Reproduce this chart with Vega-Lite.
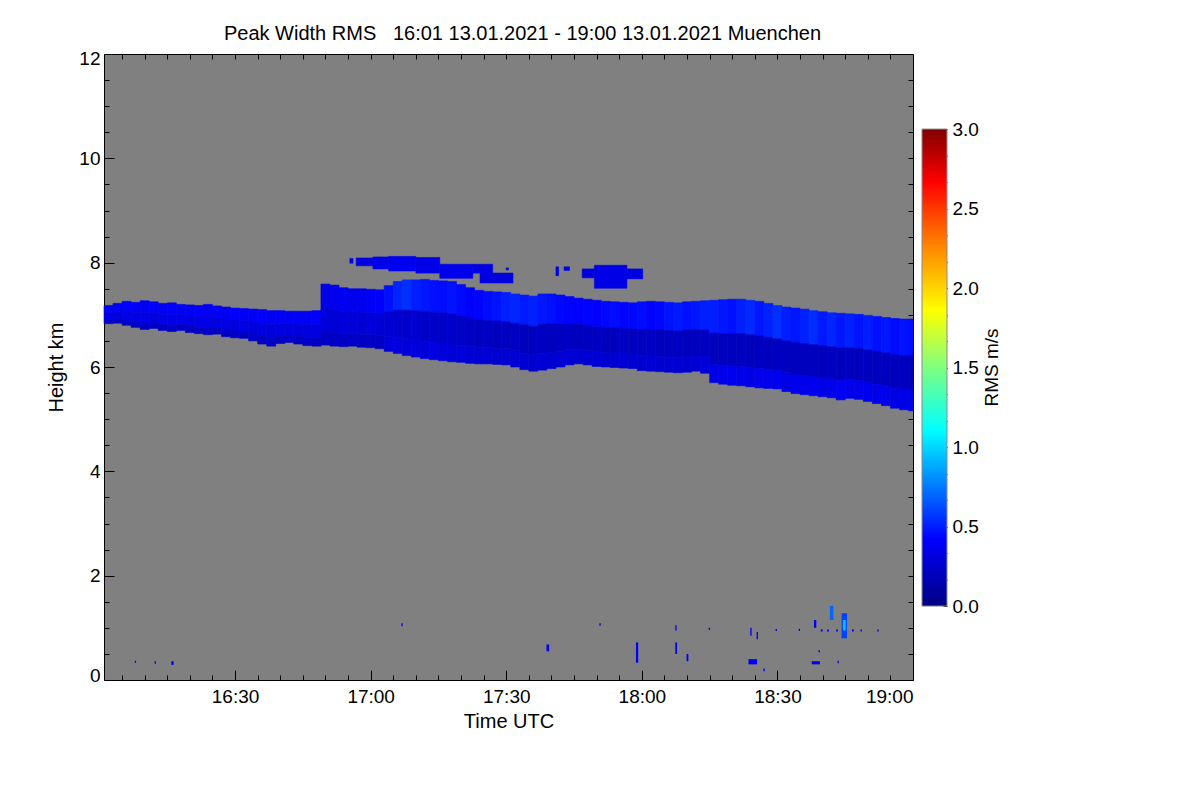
{
  "$schema": "https://vega.github.io/schema/vega-lite/v6.json",
  "background": "white",
  "padding": {"left": 46, "top": 23, "right": 5, "bottom": 5},
  "config": {
    "font": "Liberation Sans",
    "axis": {"labelFontSize": 19, "titleFontSize": 20, "titleFontWeight": "normal", "labelColor": "#000", "titleColor": "#000", "tickColor": "#000", "grid": false, "domain": false},
    "title": {"fontSize": 20, "fontWeight": "normal", "color": "#000"}
  },
  "datasets": {
    "band": [
      {"t0":1,"t1":3,"h0":7.04,"h1":7.18,"v":0.40},{"t0":1,"t1":3,"h0":6.91,"h1":7.04,"v":0.34},{"t0":1,"t1":3,"h0":6.83,"h1":6.91,"v":0.24},
      {"t0":3,"t1":5,"h0":7.07,"h1":7.22,"v":0.38},{"t0":3,"t1":5,"h0":6.92,"h1":7.07,"v":0.33},{"t0":3,"t1":5,"h0":6.84,"h1":6.92,"v":0.22},
      {"t0":5,"t1":7,"h0":7.08,"h1":7.26,"v":0.42},{"t0":5,"t1":7,"h0":6.90,"h1":7.08,"v":0.35},{"t0":5,"t1":7,"h0":6.80,"h1":6.90,"v":0.24},
      {"t0":7,"t1":9,"h0":7.05,"h1":7.24,"v":0.40},{"t0":7,"t1":9,"h0":6.87,"h1":7.05,"v":0.33},{"t0":7,"t1":9,"h0":6.76,"h1":6.87,"v":0.23},
      {"t0":9,"t1":11,"h0":7.05,"h1":7.27,"v":0.38},{"t0":9,"t1":11,"h0":6.84,"h1":7.05,"v":0.34},{"t0":9,"t1":11,"h0":6.72,"h1":6.84,"v":0.22},
      {"t0":11,"t1":13,"h0":7.05,"h1":7.25,"v":0.41},{"t0":11,"t1":13,"h0":6.85,"h1":7.05,"v":0.32},{"t0":11,"t1":13,"h0":6.74,"h1":6.85,"v":0.24},
      {"t0":13,"t1":15,"h0":7.01,"h1":7.22,"v":0.39},{"t0":13,"t1":15,"h0":6.81,"h1":7.01,"v":0.34},{"t0":13,"t1":15,"h0":6.70,"h1":6.81,"v":0.22},
      {"t0":15,"t1":17,"h0":7.01,"h1":7.23,"v":0.42},{"t0":15,"t1":17,"h0":6.80,"h1":7.01,"v":0.33},{"t0":15,"t1":17,"h0":6.68,"h1":6.80,"v":0.23},
      {"t0":17,"t1":19,"h0":7.00,"h1":7.20,"v":0.38},{"t0":17,"t1":19,"h0":6.81,"h1":7.00,"v":0.35},{"t0":17,"t1":19,"h0":6.70,"h1":6.81,"v":0.24},
      {"t0":19,"t1":21,"h0":6.98,"h1":7.19,"v":0.40},{"t0":19,"t1":21,"h0":6.78,"h1":6.98,"v":0.32},{"t0":19,"t1":21,"h0":6.66,"h1":6.78,"v":0.22},
      {"t0":21,"t1":23,"h0":6.96,"h1":7.18,"v":0.41},{"t0":21,"t1":23,"h0":6.76,"h1":6.96,"v":0.33},{"t0":21,"t1":23,"h0":6.64,"h1":6.76,"v":0.23},
      {"t0":23,"t1":25,"h0":6.97,"h1":7.20,"v":0.39},{"t0":23,"t1":25,"h0":6.75,"h1":6.97,"v":0.34},{"t0":23,"t1":25,"h0":6.62,"h1":6.75,"v":0.22},
      {"t0":25,"t1":27,"h0":6.95,"h1":7.17,"v":0.40},{"t0":25,"t1":27,"h0":6.75,"h1":6.95,"v":0.32},{"t0":25,"t1":27,"h0":6.63,"h1":6.75,"v":0.24},
      {"t0":27,"t1":29,"h0":6.92,"h1":7.15,"v":0.38},{"t0":27,"t1":29,"h0":6.71,"h1":6.92,"v":0.33},{"t0":27,"t1":29,"h0":6.58,"h1":6.71,"v":0.22},
      {"t0":29,"t1":31,"h0":6.90,"h1":7.13,"v":0.42},{"t0":29,"t1":31,"h0":6.69,"h1":6.90,"v":0.31},{"t0":29,"t1":31,"h0":6.56,"h1":6.69,"v":0.23},
      {"t0":31,"t1":33,"h0":6.89,"h1":7.12,"v":0.40},{"t0":31,"t1":33,"h0":6.68,"h1":6.89,"v":0.33},{"t0":31,"t1":33,"h0":6.55,"h1":6.68,"v":0.22},
      {"t0":33,"t1":35,"h0":6.87,"h1":7.11,"v":0.39},{"t0":33,"t1":35,"h0":6.63,"h1":6.87,"v":0.30},{"t0":33,"t1":35,"h0":6.50,"h1":6.63,"v":0.24},
      {"t0":35,"t1":37,"h0":6.84,"h1":7.10,"v":0.41},{"t0":35,"t1":37,"h0":6.59,"h1":6.84,"v":0.32},{"t0":35,"t1":37,"h0":6.44,"h1":6.59,"v":0.22},
      {"t0":37,"t1":39,"h0":6.81,"h1":7.08,"v":0.38},{"t0":37,"t1":39,"h0":6.55,"h1":6.81,"v":0.30},{"t0":37,"t1":39,"h0":6.40,"h1":6.55,"v":0.23},
      {"t0":39,"t1":41,"h0":6.83,"h1":7.08,"v":0.40},{"t0":39,"t1":41,"h0":6.59,"h1":6.83,"v":0.31},{"t0":39,"t1":41,"h0":6.45,"h1":6.59,"v":0.22},
      {"t0":41,"t1":43,"h0":6.83,"h1":7.07,"v":0.39},{"t0":41,"t1":43,"h0":6.60,"h1":6.83,"v":0.32},{"t0":41,"t1":43,"h0":6.47,"h1":6.60,"v":0.24},
      {"t0":43,"t1":45,"h0":6.82,"h1":7.07,"v":0.41},{"t0":43,"t1":45,"h0":6.58,"h1":6.82,"v":0.30},{"t0":43,"t1":45,"h0":6.44,"h1":6.58,"v":0.22},
      {"t0":45,"t1":47,"h0":6.81,"h1":7.07,"v":0.40},{"t0":45,"t1":47,"h0":6.56,"h1":6.81,"v":0.31},{"t0":45,"t1":47,"h0":6.41,"h1":6.56,"v":0.23},
      {"t0":47,"t1":49,"h0":6.81,"h1":7.08,"v":0.42},{"t0":47,"t1":49,"h0":6.55,"h1":6.81,"v":0.32},{"t0":47,"t1":49,"h0":6.40,"h1":6.55,"v":0.22},
      {"t0":49,"t1":51,"h0":7.12,"h1":7.59,"v":0.34},{"t0":49,"t1":51,"h0":6.68,"h1":7.12,"v":0.30},{"t0":49,"t1":51,"h0":6.42,"h1":6.68,"v":0.22},
      {"t0":51,"t1":53,"h0":7.10,"h1":7.57,"v":0.36},{"t0":51,"t1":53,"h0":6.66,"h1":7.10,"v":0.28},{"t0":51,"t1":53,"h0":6.40,"h1":6.66,"v":0.23},
      {"t0":53,"t1":55,"h0":7.07,"h1":7.52,"v":0.38},{"t0":53,"t1":55,"h0":6.64,"h1":7.07,"v":0.30},{"t0":53,"t1":55,"h0":6.39,"h1":6.64,"v":0.22},
      {"t0":55,"t1":57,"h0":7.06,"h1":7.50,"v":0.35},{"t0":55,"t1":57,"h0":6.64,"h1":7.06,"v":0.29},{"t0":55,"t1":57,"h0":6.40,"h1":6.64,"v":0.24},
      {"t0":57,"t1":59,"h0":7.05,"h1":7.50,"v":0.37},{"t0":57,"t1":59,"h0":6.63,"h1":7.05,"v":0.28},{"t0":57,"t1":59,"h0":6.38,"h1":6.63,"v":0.22},
      {"t0":59,"t1":61,"h0":7.04,"h1":7.49,"v":0.40},{"t0":59,"t1":61,"h0":6.62,"h1":7.04,"v":0.30},{"t0":59,"t1":61,"h0":6.37,"h1":6.62,"v":0.23},
      {"t0":61,"t1":63,"h0":7.03,"h1":7.48,"v":0.42},{"t0":61,"t1":63,"h0":6.60,"h1":7.03,"v":0.28},{"t0":61,"t1":63,"h0":6.35,"h1":6.60,"v":0.22},
      {"t0":63,"t1":65,"h0":7.06,"h1":7.56,"v":0.46},{"t0":63,"t1":65,"h0":6.58,"h1":7.06,"v":0.27},{"t0":63,"t1":65,"h0":6.30,"h1":6.58,"v":0.30},
      {"t0":65,"t1":67,"h0":7.09,"h1":7.64,"v":0.52},{"t0":65,"t1":67,"h0":6.56,"h1":7.09,"v":0.26},{"t0":65,"t1":67,"h0":6.26,"h1":6.56,"v":0.32},
      {"t0":67,"t1":69,"h0":7.09,"h1":7.67,"v":0.55},{"t0":67,"t1":69,"h0":6.54,"h1":7.09,"v":0.25},{"t0":67,"t1":69,"h0":6.22,"h1":6.54,"v":0.30},
      {"t0":69,"t1":71,"h0":7.08,"h1":7.67,"v":0.50},{"t0":69,"t1":71,"h0":6.52,"h1":7.08,"v":0.26},{"t0":69,"t1":71,"h0":6.19,"h1":6.52,"v":0.31},
      {"t0":71,"t1":73,"h0":7.07,"h1":7.68,"v":0.48},{"t0":71,"t1":73,"h0":6.49,"h1":7.07,"v":0.24},{"t0":71,"t1":73,"h0":6.16,"h1":6.49,"v":0.30},
      {"t0":73,"t1":75,"h0":7.05,"h1":7.66,"v":0.46},{"t0":73,"t1":75,"h0":6.47,"h1":7.05,"v":0.25},{"t0":73,"t1":75,"h0":6.14,"h1":6.47,"v":0.32},
      {"t0":75,"t1":77,"h0":7.04,"h1":7.65,"v":0.45},{"t0":75,"t1":77,"h0":6.46,"h1":7.04,"v":0.24},{"t0":75,"t1":77,"h0":6.12,"h1":6.46,"v":0.30},
      {"t0":77,"t1":79,"h0":7.02,"h1":7.64,"v":0.47},{"t0":77,"t1":79,"h0":6.44,"h1":7.02,"v":0.25},{"t0":77,"t1":79,"h0":6.10,"h1":6.44,"v":0.29},
      {"t0":79,"t1":81,"h0":6.98,"h1":7.58,"v":0.44},{"t0":79,"t1":81,"h0":6.42,"h1":6.98,"v":0.23},{"t0":79,"t1":81,"h0":6.09,"h1":6.42,"v":0.30},
      {"t0":81,"t1":83,"h0":6.94,"h1":7.52,"v":0.42},{"t0":81,"t1":83,"h0":6.39,"h1":6.94,"v":0.22},{"t0":81,"t1":83,"h0":6.07,"h1":6.39,"v":0.28},
      {"t0":83,"t1":85,"h0":6.91,"h1":7.47,"v":0.43},{"t0":83,"t1":85,"h0":6.37,"h1":6.91,"v":0.21},{"t0":83,"t1":85,"h0":6.06,"h1":6.37,"v":0.27},
      {"t0":85,"t1":87,"h0":6.89,"h1":7.45,"v":0.45},{"t0":85,"t1":87,"h0":6.37,"h1":6.89,"v":0.22},{"t0":85,"t1":87,"h0":6.06,"h1":6.37,"v":0.28},
      {"t0":87,"t1":89,"h0":6.88,"h1":7.44,"v":0.47},{"t0":87,"t1":89,"h0":6.36,"h1":6.88,"v":0.20},{"t0":87,"t1":89,"h0":6.05,"h1":6.36,"v":0.26},
      {"t0":89,"t1":91,"h0":6.87,"h1":7.43,"v":0.50},{"t0":89,"t1":91,"h0":6.35,"h1":6.87,"v":0.21},{"t0":89,"t1":91,"h0":6.04,"h1":6.35,"v":0.27},
      {"t0":91,"t1":93,"h0":6.84,"h1":7.40,"v":0.52},{"t0":91,"t1":93,"h0":6.31,"h1":6.84,"v":0.22},{"t0":91,"t1":93,"h0":6.00,"h1":6.31,"v":0.28},
      {"t0":93,"t1":95,"h0":6.81,"h1":7.38,"v":0.49},{"t0":93,"t1":95,"h0":6.26,"h1":6.81,"v":0.20},{"t0":93,"t1":95,"h0":5.95,"h1":6.26,"v":0.26},
      {"t0":95,"t1":97,"h0":6.78,"h1":7.36,"v":0.51},{"t0":95,"t1":97,"h0":6.24,"h1":6.78,"v":0.21},{"t0":95,"t1":97,"h0":5.92,"h1":6.24,"v":0.27},
      {"t0":97,"t1":99,"h0":6.82,"h1":7.40,"v":0.48},{"t0":97,"t1":99,"h0":6.26,"h1":6.82,"v":0.22},{"t0":97,"t1":99,"h0":5.94,"h1":6.26,"v":0.28},
      {"t0":99,"t1":101,"h0":6.83,"h1":7.40,"v":0.46},{"t0":99,"t1":101,"h0":6.28,"h1":6.83,"v":0.20},{"t0":99,"t1":101,"h0":5.97,"h1":6.28,"v":0.26},
      {"t0":101,"t1":103,"h0":6.83,"h1":7.38,"v":0.44},{"t0":101,"t1":103,"h0":6.30,"h1":6.83,"v":0.21},{"t0":101,"t1":103,"h0":6.00,"h1":6.30,"v":0.27},
      {"t0":103,"t1":105,"h0":6.83,"h1":7.35,"v":0.43},{"t0":103,"t1":105,"h0":6.33,"h1":6.83,"v":0.22},{"t0":103,"t1":105,"h0":6.04,"h1":6.33,"v":0.28},
      {"t0":105,"t1":107,"h0":6.82,"h1":7.32,"v":0.42},{"t0":105,"t1":107,"h0":6.34,"h1":6.82,"v":0.20},{"t0":105,"t1":107,"h0":6.06,"h1":6.34,"v":0.26},
      {"t0":107,"t1":109,"h0":6.80,"h1":7.30,"v":0.43},{"t0":107,"t1":109,"h0":6.32,"h1":6.80,"v":0.21},{"t0":107,"t1":109,"h0":6.04,"h1":6.32,"v":0.27},
      {"t0":109,"t1":111,"h0":6.77,"h1":7.28,"v":0.42},{"t0":109,"t1":111,"h0":6.29,"h1":6.77,"v":0.22},{"t0":109,"t1":111,"h0":6.01,"h1":6.29,"v":0.28},
      {"t0":111,"t1":113,"h0":6.76,"h1":7.26,"v":0.44},{"t0":111,"t1":113,"h0":6.28,"h1":6.76,"v":0.20},{"t0":111,"t1":113,"h0":6.00,"h1":6.28,"v":0.26},
      {"t0":113,"t1":115,"h0":6.75,"h1":7.25,"v":0.45},{"t0":113,"t1":115,"h0":6.27,"h1":6.75,"v":0.21},{"t0":113,"t1":115,"h0":5.99,"h1":6.27,"v":0.27},
      {"t0":115,"t1":117,"h0":6.74,"h1":7.24,"v":0.43},{"t0":115,"t1":117,"h0":6.26,"h1":6.74,"v":0.22},{"t0":115,"t1":117,"h0":5.98,"h1":6.26,"v":0.28},
      {"t0":117,"t1":119,"h0":6.73,"h1":7.23,"v":0.44},{"t0":117,"t1":119,"h0":6.25,"h1":6.73,"v":0.20},{"t0":117,"t1":119,"h0":5.97,"h1":6.25,"v":0.26},
      {"t0":119,"t1":121,"h0":6.72,"h1":7.25,"v":0.45},{"t0":119,"t1":121,"h0":6.22,"h1":6.72,"v":0.21},{"t0":119,"t1":121,"h0":5.93,"h1":6.22,"v":0.27},
      {"t0":121,"t1":123,"h0":6.72,"h1":7.26,"v":0.43},{"t0":121,"t1":123,"h0":6.21,"h1":6.72,"v":0.22},{"t0":121,"t1":123,"h0":5.92,"h1":6.21,"v":0.28},
      {"t0":123,"t1":125,"h0":6.71,"h1":7.25,"v":0.44},{"t0":123,"t1":125,"h0":6.20,"h1":6.71,"v":0.20},{"t0":123,"t1":125,"h0":5.91,"h1":6.20,"v":0.26},
      {"t0":125,"t1":127,"h0":6.70,"h1":7.24,"v":0.47},{"t0":125,"t1":127,"h0":6.19,"h1":6.70,"v":0.21},{"t0":125,"t1":127,"h0":5.90,"h1":6.19,"v":0.27},
      {"t0":127,"t1":129,"h0":6.69,"h1":7.23,"v":0.49},{"t0":127,"t1":129,"h0":6.18,"h1":6.69,"v":0.22},{"t0":127,"t1":129,"h0":5.89,"h1":6.18,"v":0.28},
      {"t0":129,"t1":131,"h0":6.71,"h1":7.25,"v":0.46},{"t0":129,"t1":131,"h0":6.20,"h1":6.71,"v":0.20},{"t0":129,"t1":131,"h0":5.90,"h1":6.20,"v":0.26},
      {"t0":131,"t1":133,"h0":6.72,"h1":7.26,"v":0.48},{"t0":131,"t1":133,"h0":6.21,"h1":6.72,"v":0.21},{"t0":131,"t1":133,"h0":5.92,"h1":6.21,"v":0.27},
      {"t0":133,"t1":135,"h0":6.71,"h1":7.27,"v":0.50},{"t0":133,"t1":135,"h0":6.19,"h1":6.71,"v":0.22},{"t0":133,"t1":135,"h0":5.88,"h1":6.19,"v":0.30},
      {"t0":135,"t1":137,"h0":6.65,"h1":7.28,"v":0.50},{"t0":135,"t1":137,"h0":6.05,"h1":6.65,"v":0.20},{"t0":135,"t1":137,"h0":5.70,"h1":6.05,"v":0.34},
      {"t0":137,"t1":139,"h0":6.64,"h1":7.29,"v":0.48},{"t0":137,"t1":139,"h0":6.03,"h1":6.64,"v":0.21},{"t0":137,"t1":139,"h0":5.67,"h1":6.03,"v":0.36},
      {"t0":139,"t1":141,"h0":6.64,"h1":7.30,"v":0.46},{"t0":139,"t1":141,"h0":6.01,"h1":6.64,"v":0.20},{"t0":139,"t1":141,"h0":5.65,"h1":6.01,"v":0.37},
      {"t0":141,"t1":143,"h0":6.64,"h1":7.30,"v":0.50},{"t0":141,"t1":143,"h0":6.01,"h1":6.64,"v":0.21},{"t0":141,"t1":143,"h0":5.64,"h1":6.01,"v":0.35},
      {"t0":143,"t1":145,"h0":6.62,"h1":7.28,"v":0.53},{"t0":143,"t1":145,"h0":5.99,"h1":6.62,"v":0.20},{"t0":143,"t1":145,"h0":5.62,"h1":5.99,"v":0.34},
      {"t0":145,"t1":147,"h0":6.60,"h1":7.26,"v":0.48},{"t0":145,"t1":147,"h0":5.97,"h1":6.60,"v":0.21},{"t0":145,"t1":147,"h0":5.60,"h1":5.97,"v":0.36},
      {"t0":147,"t1":149,"h0":6.57,"h1":7.22,"v":0.51},{"t0":147,"t1":149,"h0":5.95,"h1":6.57,"v":0.20},{"t0":147,"t1":149,"h0":5.59,"h1":5.95,"v":0.35},
      {"t0":149,"t1":151,"h0":6.54,"h1":7.18,"v":0.55},{"t0":149,"t1":151,"h0":5.93,"h1":6.54,"v":0.21},{"t0":149,"t1":151,"h0":5.58,"h1":5.93,"v":0.37},
      {"t0":151,"t1":153,"h0":6.50,"h1":7.15,"v":0.50},{"t0":151,"t1":153,"h0":5.89,"h1":6.50,"v":0.20},{"t0":151,"t1":153,"h0":5.53,"h1":5.89,"v":0.34},
      {"t0":153,"t1":155,"h0":6.47,"h1":7.13,"v":0.48},{"t0":153,"t1":155,"h0":5.85,"h1":6.47,"v":0.21},{"t0":153,"t1":155,"h0":5.49,"h1":5.85,"v":0.36},
      {"t0":155,"t1":157,"h0":6.45,"h1":7.11,"v":0.51},{"t0":155,"t1":157,"h0":5.83,"h1":6.45,"v":0.20},{"t0":155,"t1":157,"h0":5.47,"h1":5.83,"v":0.35},
      {"t0":157,"t1":159,"h0":6.43,"h1":7.08,"v":0.54},{"t0":157,"t1":159,"h0":5.81,"h1":6.43,"v":0.21},{"t0":157,"t1":159,"h0":5.45,"h1":5.81,"v":0.37},
      {"t0":159,"t1":161,"h0":6.41,"h1":7.06,"v":0.49},{"t0":159,"t1":161,"h0":5.79,"h1":6.41,"v":0.20},{"t0":159,"t1":161,"h0":5.43,"h1":5.79,"v":0.34},
      {"t0":161,"t1":163,"h0":6.39,"h1":7.04,"v":0.52},{"t0":161,"t1":163,"h0":5.77,"h1":6.39,"v":0.21},{"t0":161,"t1":163,"h0":5.41,"h1":5.77,"v":0.36},
      {"t0":163,"t1":165,"h0":6.37,"h1":7.03,"v":0.48},{"t0":163,"t1":165,"h0":5.74,"h1":6.37,"v":0.20},{"t0":163,"t1":165,"h0":5.37,"h1":5.74,"v":0.38},
      {"t0":165,"t1":167,"h0":6.37,"h1":7.02,"v":0.51},{"t0":165,"t1":167,"h0":5.76,"h1":6.37,"v":0.21},{"t0":165,"t1":167,"h0":5.40,"h1":5.76,"v":0.36},
      {"t0":167,"t1":169,"h0":6.36,"h1":7.01,"v":0.47},{"t0":167,"t1":169,"h0":5.74,"h1":6.36,"v":0.20},{"t0":167,"t1":169,"h0":5.38,"h1":5.74,"v":0.35},
      {"t0":169,"t1":171,"h0":6.33,"h1":6.99,"v":0.50},{"t0":169,"t1":171,"h0":5.70,"h1":6.33,"v":0.21},{"t0":169,"t1":171,"h0":5.34,"h1":5.70,"v":0.37},
      {"t0":171,"t1":173,"h0":6.30,"h1":6.97,"v":0.46},{"t0":171,"t1":173,"h0":5.67,"h1":6.30,"v":0.20},{"t0":171,"t1":173,"h0":5.30,"h1":5.67,"v":0.35},
      {"t0":173,"t1":175,"h0":6.27,"h1":6.95,"v":0.48},{"t0":173,"t1":175,"h0":5.63,"h1":6.27,"v":0.21},{"t0":173,"t1":175,"h0":5.26,"h1":5.63,"v":0.36},
      {"t0":175,"t1":177,"h0":6.24,"h1":6.93,"v":0.45},{"t0":175,"t1":177,"h0":5.59,"h1":6.24,"v":0.20},{"t0":175,"t1":177,"h0":5.21,"h1":5.59,"v":0.34},
      {"t0":177,"t1":179,"h0":6.22,"h1":6.92,"v":0.47},{"t0":177,"t1":179,"h0":5.56,"h1":6.22,"v":0.21},{"t0":177,"t1":179,"h0":5.18,"h1":5.56,"v":0.35},
      {"t0":179,"t1":180,"h0":6.22,"h1":6.92,"v":0.45},{"t0":179,"t1":180,"h0":5.55,"h1":6.22,"v":0.20},{"t0":179,"t1":180,"h0":5.16,"h1":5.55,"v":0.34}
    ],
    "upper": [
      {"t0":55.4,"t1":56.1,"h0":7.99,"h1":8.08,"v":0.34},
      {"t0":56.8,"t1":60.5,"h0":7.94,"h1":8.09,"v":0.32},
      {"t0":60.5,"t1":64,"h0":7.88,"h1":8.11,"v":0.35},
      {"t0":64,"t1":70,"h0":7.84,"h1":8.12,"v":0.37},
      {"t0":70,"t1":75.3,"h0":7.80,"h1":8.10,"v":0.34},
      {"t0":75.3,"t1":82.6,"h0":7.70,"h1":7.97,"v":0.36},
      {"t0":82.6,"t1":87,"h0":7.80,"h1":7.97,"v":0.33},
      {"t0":84.2,"t1":91.5,"h0":7.61,"h1":7.80,"v":0.31},
      {"t0":90,"t1":90.5,"h0":7.86,"h1":7.90,"v":0.34},
      {"t0":101,"t1":101.6,"h0":7.75,"h1":7.92,"v":0.33},
      {"t0":102.8,"t1":104,"h0":7.85,"h1":7.92,"v":0.33},
      {"t0":106.8,"t1":109.5,"h0":7.71,"h1":7.88,"v":0.31},
      {"t0":109.5,"t1":116.7,"h0":7.51,"h1":7.95,"v":0.34},
      {"t0":116.7,"t1":120.2,"h0":7.69,"h1":7.88,"v":0.33}
    ],
    "specks": [
      {"t0":7.8,"t1":8.1,"h0":0.33,"h1":0.37,"v":0.40},
      {"t0":12.2,"t1":12.5,"h0":0.31,"h1":0.36,"v":0.40},
      {"t0":15.9,"t1":16.4,"h0":0.29,"h1":0.36,"v":0.35},
      {"t0":66.8,"t1":67.1,"h0":1.03,"h1":1.09,"v":0.40},
      {"t0":98.9,"t1":99.5,"h0":0.55,"h1":0.68,"v":0.40},
      {"t0":110.6,"t1":110.9,"h0":1.04,"h1":1.09,"v":0.35},
      {"t0":118.7,"t1":119.2,"h0":0.33,"h1":0.72,"v":0.42},
      {"t0":127.4,"t1":127.7,"h0":0.95,"h1":1.05,"v":0.40},
      {"t0":127.4,"t1":127.8,"h0":0.50,"h1":0.72,"v":0.40},
      {"t0":129.9,"t1":130.3,"h0":0.36,"h1":0.50,"v":0.40},
      {"t0":134.8,"t1":135.1,"h0":0.96,"h1":1.00,"v":0.35},
      {"t0":144.0,"t1":144.3,"h0":0.85,"h1":1.00,"v":0.40},
      {"t0":145.4,"t1":145.7,"h0":0.78,"h1":0.92,"v":0.40},
      {"t0":143.6,"t1":145.5,"h0":0.30,"h1":0.40,"v":0.38},
      {"t0":146.9,"t1":147.2,"h0":0.17,"h1":0.22,"v":0.35},
      {"t0":149.6,"t1":149.9,"h0":0.94,"h1":0.98,"v":0.35},
      {"t0":154.7,"t1":155.0,"h0":0.94,"h1":0.98,"v":0.35},
      {"t0":158.1,"t1":158.6,"h0":1.00,"h1":1.15,"v":0.42},
      {"t0":159.1,"t1":159.4,"h0":0.53,"h1":0.57,"v":0.35},
      {"t0":157.6,"t1":159.4,"h0":0.30,"h1":0.36,"v":0.38},
      {"t0":163.3,"t1":163.6,"h0":0.32,"h1":0.37,"v":0.35},
      {"t0":159.6,"t1":160.0,"h0":0.93,"h1":0.97,"v":0.35},
      {"t0":161.0,"t1":161.4,"h0":0.93,"h1":0.97,"v":0.35},
      {"t0":163.0,"t1":163.4,"h0":0.93,"h1":0.97,"v":0.35},
      {"t0":166.5,"t1":166.9,"h0":0.93,"h1":0.97,"v":0.35},
      {"t0":161.6,"t1":162.4,"h0":1.15,"h1":1.42,"v":0.70},
      {"t0":164.2,"t1":165.4,"h0":0.80,"h1":1.28,"v":0.60},
      {"t0":164.5,"t1":165.1,"h0":0.95,"h1":1.15,"v":0.95},
      {"t0":168.4,"t1":168.7,"h0":0.93,"h1":0.97,"v":0.35},
      {"t0":172.1,"t1":172.4,"h0":0.93,"h1":0.97,"v":0.35}
    ]
  },
  "hconcat": [
    {
      "width": 809,
      "height": 626,
      "title": {"text": "Peak Width RMS\u00a0\u00a0\u00a016:01 13.01.2021 - 19:00 13.01.2021 Muenchen", "dx": 14, "offset": 5, "frame": "group"},
      "view": {"fill": "#808080", "stroke": "#000", "strokeWidth": 1},
      "layer": [
        {
          "data": {"name": "band"},
          "mark": {"type": "rect", "strokeWidth": 0.6},
          "encoding": {
            "x": {"field": "t0", "type": "quantitative", "scale": {"domain": [1, 180], "nice": false, "zero": false},
              "axis": {"orient": "bottom", "values": [30, 60, 90, 120, 150, 180], "labelExpr": "timeFormat(datetime(2021, 0, 13, 16, datum.value), '%H:%M')", "tickSize": -10, "labelPadding": 17, "title": "Time UTC", "titlePadding": 5}},
            "x2": {"field": "t1"},
            "y": {"field": "h0", "type": "quantitative", "scale": {"domain": [0, 12], "nice": false, "zero": false},
              "axis": {"orient": "left", "values": [0, 2, 4, 6, 8, 10, 12], "tickSize": -10, "labelPadding": 14, "labelFlush": true, "labelFlushOffset": 5, "title": "Height km", "titlePadding": 12}},
            "y2": {"field": "h1"},
            "color": {"field": "v", "type": "quantitative", "legend": null,
              "scale": {"domain": [0, 0.42, 1.11, 1.5, 1.86, 2.28, 2.67, 3], "range": ["#000083", "#0000ff", "#00ffff", "#80ff80", "#ffff00", "#ff8000", "#ff0000", "#800000"], "interpolate": "rgb"}},
            "stroke": {"field": "v", "type": "quantitative", "legend": null,
              "scale": {"domain": [0, 0.42, 1.11, 1.5, 1.86, 2.28, 2.67, 3], "range": ["#000083", "#0000ff", "#00ffff", "#80ff80", "#ffff00", "#ff8000", "#ff0000", "#800000"], "interpolate": "rgb"}}
          }
        },
        {
          "data": {"name": "upper"},
          "mark": {"type": "rect", "strokeWidth": 0.6},
          "encoding": {
            "x": {"field": "t0", "type": "quantitative", "scale": {"domain": [1, 180], "nice": false, "zero": false},
              "axis": {"orient": "bottom", "values": [5, 10, 15, 20, 25, 35, 40, 45, 50, 55, 65, 70, 75, 80, 85, 95, 100, 105, 110, 115, 125, 130, 135, 140, 145, 155, 160, 165, 170, 175], "tickSize": -5, "labels": false, "title": null}},
            "x2": {"field": "t1"},
            "y": {"field": "h0", "type": "quantitative", "scale": {"domain": [0, 12], "nice": false, "zero": false},
              "axis": {"orient": "left", "values": [0.5, 1, 1.5, 2.5, 3, 3.5, 4.5, 5, 5.5, 6.5, 7, 7.5, 8.5, 9, 9.5, 10.5, 11, 11.5], "tickSize": -5, "labels": false, "title": null}},
            "y2": {"field": "h1"},
            "color": {"field": "v", "type": "quantitative", "legend": null},
            "stroke": {"field": "v", "type": "quantitative", "legend": null}
          }
        },
        {
          "data": {"name": "specks"},
          "mark": {"type": "rect"},
          "encoding": {
            "x": {"field": "t0", "type": "quantitative", "scale": {"domain": [1, 180], "nice": false, "zero": false},
              "axis": {"orient": "top", "values": [5, 10, 15, 20, 25, 30, 35, 40, 45, 50, 55, 60, 65, 70, 75, 80, 85, 90, 95, 100, 105, 110, 115, 120, 125, 130, 135, 140, 145, 150, 155, 160, 165, 170, 175, 180], "tickSize": -5, "labels": false, "title": null}},
            "x2": {"field": "t1"},
            "y": {"field": "h0", "type": "quantitative", "scale": {"domain": [0, 12], "nice": false, "zero": false},
              "axis": {"orient": "right", "values": [0.5, 1, 1.5, 2, 2.5, 3, 3.5, 4, 4.5, 5, 5.5, 6, 6.5, 7, 7.5, 8, 8.5, 9, 9.5, 10, 10.5, 11, 11.5], "tickSize": -5, "labels": false, "title": null}},
            "y2": {"field": "h1"},
            "color": {"field": "v", "type": "quantitative", "legend": null}
          }
        }
      ],
      "resolve": {"axis": {"x": "independent", "y": "independent"}}
    },
    {
      "width": 25,
      "height": 626,
      "view": {"stroke": null},
      "data": {"values": [{"lo": 0, "hi": 3}]},
      "mark": {"type": "rect", "stroke": "#8a8a8a", "strokeWidth": 1,
        "color": {"gradient": "linear", "x1": 0, "y1": 1, "x2": 0, "y2": 0,
          "stops": [
            {"offset": 0, "color": "#000083"},
            {"offset": 0.14, "color": "#0000ff"},
            {"offset": 0.37, "color": "#00ffff"},
            {"offset": 0.5, "color": "#80ff80"},
            {"offset": 0.62, "color": "#ffff00"},
            {"offset": 0.76, "color": "#ff8000"},
            {"offset": 0.89, "color": "#ff0000"},
            {"offset": 1, "color": "#800000"}
          ]}},
      "encoding": {
        "y": {"field": "lo", "type": "quantitative", "scale": {"domain": [-0.465, 3.472], "nice": false, "zero": false},
          "axis": {"orient": "right", "values": [0, 0.16667, 0.33333, 0.5, 0.66667, 0.83333, 1, 1.16667, 1.33333, 1.5, 1.66667, 1.83333, 2, 2.16667, 2.33333, 2.5, 2.66667, 2.83333, 3],
            "labelExpr": "abs(datum.value * 2 - round(datum.value * 2)) < 0.01 ? format(datum.value, '.1f') : ''",
            "tickSize": -4, "labelPadding": 9, "title": "RMS m/s", "titleFontSize": 19, "titleAngle": 270, "titlePadding": 23}},
        "y2": {"field": "hi"}
      }
    }
  ],
  "spacing": 7
}
